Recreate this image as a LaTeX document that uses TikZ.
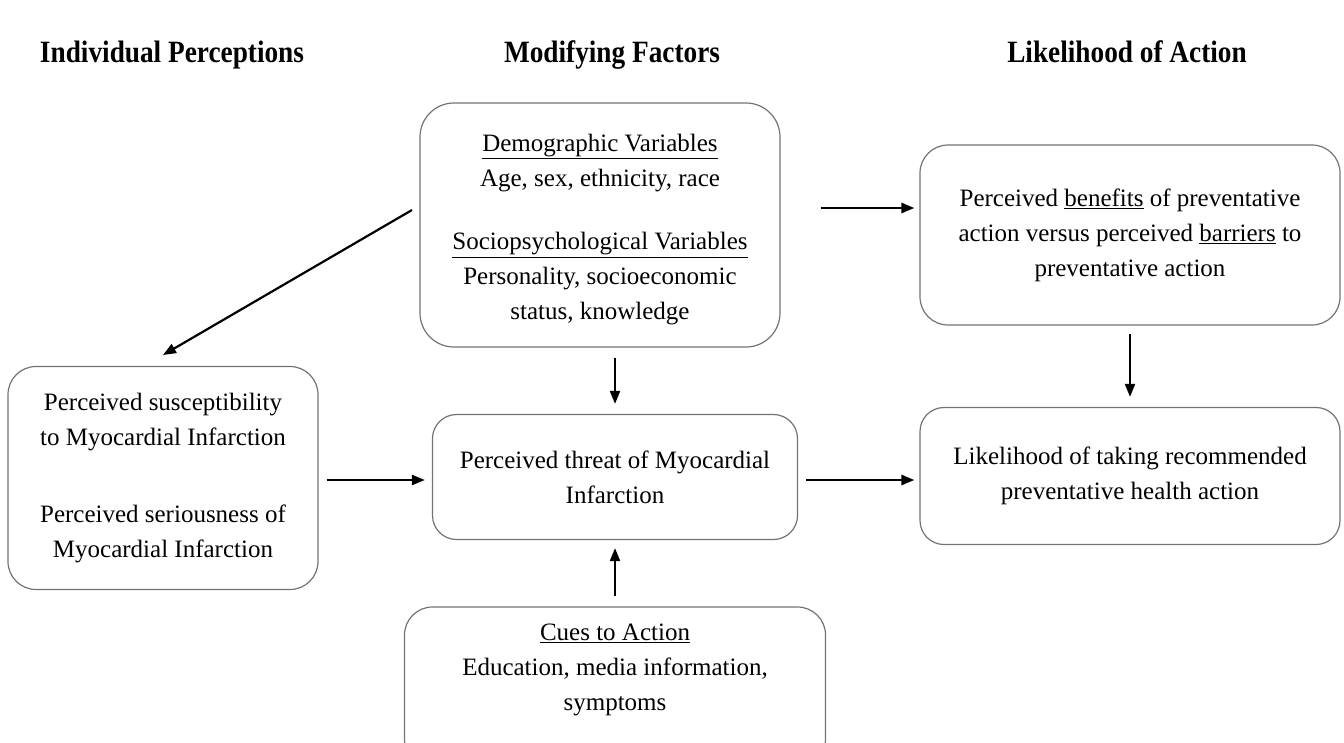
\documentclass[tikz,border=0pt]{standalone}
\usepackage{fontspec}
\setmainfont{Liberation Serif}
\usetikzlibrary{arrows.meta}
\begin{document}
\begin{tikzpicture}[x=1pt,y=-1pt,
  box/.style={draw=black!55,line width=1.2pt,rounded corners=28pt,align=center,inner sep=0pt,
    font=\fontsize{25}{35}\selectfont},
  txt/.style={font=\fontsize{25}{35}\selectfont,align=center},
  hdr/.style={font=\fontsize{31}{34}\selectfont\bfseries,inner sep=0pt,anchor=base},
  arr/.style={line width=2.2pt,-{Triangle[length=13pt,width=10pt]}}]
\useasboundingbox (0,0) rectangle (1344,742);
\clip (0,0) rectangle (1344,742);
\node[hdr] (h1) at (172,62) {\scalebox{0.88}[1]{Individual Perceptions}};
\node[hdr] (h2) at (612,62) {\scalebox{0.88}[1]{Modifying Factors}};
\node[hdr] (h3) at (1127,62) {\scalebox{0.88}[1]{Likelihood of Action}};

\node[box,minimum width=360pt,minimum height=244pt,rounded corners=34pt] (tc) at (600,225) {};
\node[txt] (tct) at (600,163) {\underline{Demographic Variables}\\Age, sex, ethnicity, race};
\node[txt] (tcb) at (600,279) {\underline{Sociopsychological Variables}\\Personality, socioeconomic\\status, knowledge};

\node[box,minimum width=420pt,minimum height=180pt] (rt) at (1130,235)
  {Perceived \underline{benefits} of preventative\\action versus perceived \underline{barriers} to\\preventative action};
\node[box,minimum width=310pt,minimum height=223pt] (lf) at (163,478)
  {Perceived susceptibility\\to Myocardial Infarction\\[42pt]Perceived seriousness of\\Myocardial Infarction};
\node[box,minimum width=365pt,minimum height=125pt,rounded corners=24pt] (md) at (615,477)
  {Perceived threat of Myocardial\\Infarction};
\node[box,minimum width=420pt,minimum height=137pt,rounded corners=24pt] (rm) at (1130,476)
  {Likelihood of taking recommended\\preventative health action};
\node[box,minimum width=421pt,minimum height=160pt] (bt) at (615,687) {};
\node[txt] (btt) at (615,670) {\underline{Cues to Action}\\Education, media information,\\symptoms};

\coordinate (a1s) at (412,210); \coordinate (a1e) at (163,355);
\draw[arr] (a1s) -- (a1e);
\draw[arr] ([xshift=40pt]tc.east |- 0,208) -- ([xshift=-5pt]rt.west |- 0,208);
\draw[arr] ([yshift=-10pt]md.north |- tc.south) -- ([yshift=10pt]md.north);
\draw[arr] ([yshift=-8pt]rt.south) -- ([yshift=10pt]rm.north);
\draw[arr] ([xshift=8pt]lf.east |- 0,480) -- ([xshift=-7pt]md.west |- 0,480);
\draw[arr] ([xshift=8pt]md.east |- 0,480) -- ([xshift=-5pt]rm.west |- 0,480);
\draw[arr] ([yshift=10pt]bt.north) -- ([yshift=-8pt]md.south);
\end{tikzpicture}
\end{document}
